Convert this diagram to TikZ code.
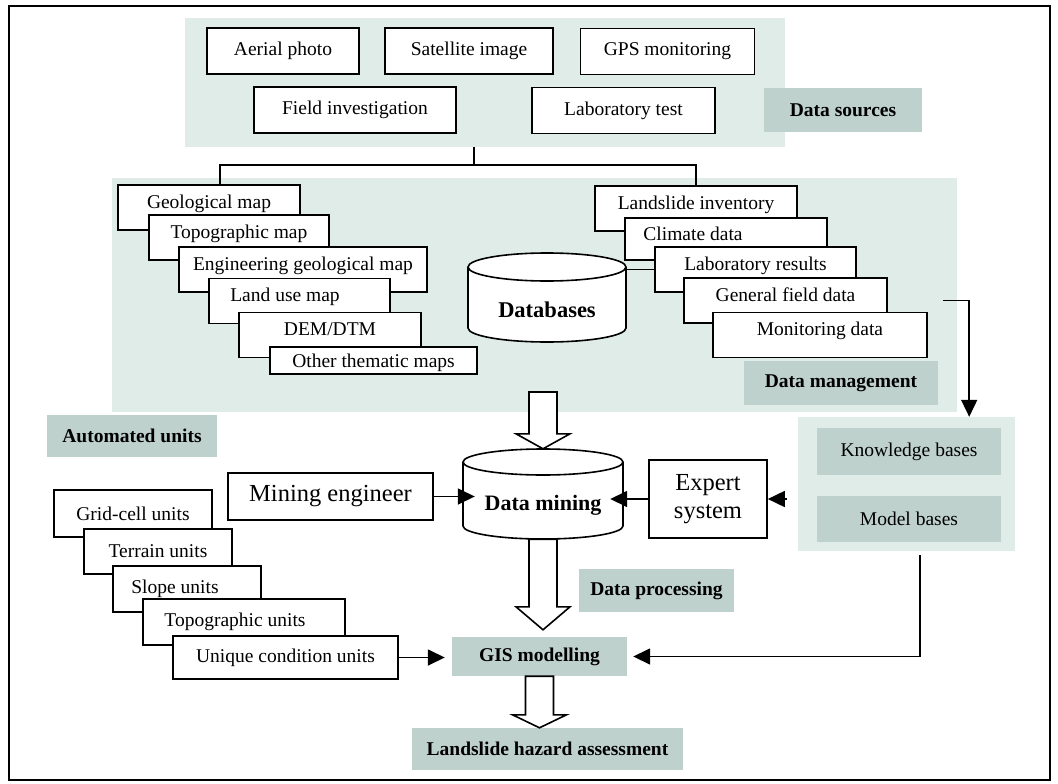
\documentclass[tikz,border=0pt]{standalone}
\usepackage{fontspec}
\setmainfont{Liberation Serif}
\usepackage{xcolor}
\definecolor{panelbg}{RGB}{224,236,232}
\definecolor{tagbg}{RGB}{191,209,205}
\usepackage{tikz}
\usetikzlibrary{arrows.meta,calc}

\newcommand{\hollowarrow}[3]{%
  \draw[hollow] let \p1=(#1), \p2=(#2) in
    (\x1-14,\y1) -- (\x1-14,\y2+#3) -- (\x1-27,\y2+#3) -- (\x1,\y2)
    -- (\x1+27,\y2+#3) -- (\x1+14,\y2+#3) -- (\x1+14,\y1) -- cycle;}

\begin{document}
\begin{tikzpicture}[
    x=1pt, y=1pt,
    box/.style={draw, fill=white, line width=1.6pt, inner sep=0pt, minimum height=46pt, font=\fontsize{19.5}{23}\selectfont},
    mapbox/.style={box, minimum height=0pt, text height=23pt, text depth=22pt},
    tag/.style={fill=tagbg, inner sep=0pt, font=\fontsize{19.5}{23}\selectfont\bfseries},
    panel/.style={fill=panelbg, inner sep=0pt},
    big/.style={font=\fontsize{24.5}{28}\selectfont},
    arr/.style={-{Triangle[length=17pt, width=16pt]}, line width=1.6pt},
    hollow/.style={draw, fill=white, line width=1.6pt},
    cyl/.style={draw, fill=white, line width=1.6pt}
]
\useasboundingbox (0,0) rectangle (1058,-784);
\draw[line width=2.8pt] (9,-6) rectangle (1050,-780);

\node[panel, minimum width=600pt, minimum height=129pt] (srcpanel) at (485,-82.5) {};
\node[panel, minimum width=845pt, minimum height=234pt] (mgmtpanel) at (534.5,-295) {};
\node[panel, minimum width=217pt, minimum height=134pt] (kbpanel) at (906.5,-484) {};

% data sources
\node[box, minimum width=152pt] (aerial) at (283,-51) {Aerial photo};
\node[box, minimum width=168pt] (satellite) at (469,-51) {Satellite image};
\node[box, minimum width=174pt] (gps) at (667.5,-51.5) {GPS monitoring};
\node[box, minimum width=202pt] (fieldinv) at (355,-110) {Field investigation};
\node[box, minimum width=183pt] (labtest) at (623.5,-110.5) {Laboratory test};
\node[tag, minimum width=158pt, minimum height=44pt] (srclabel) at (843,-110) {Data sources};

% data management
\node[mapbox, minimum width=182pt] (geo) at (209,-207.5) {Geological map};
\node[mapbox, minimum width=180pt] (topo) at (239,-237.5) {Topographic map};
\node[mapbox, minimum width=248pt] (eng) at (303,-269.5) {Engineering geological map};
\node[mapbox, minimum width=181pt] (landuse) at (299.5,-301) {Land use map\hspace*{29pt}};
\node[mapbox, minimum width=182pt] (dem) at (330,-335) {DEM/DTM};
\node[mapbox, minimum width=207pt, text height=20pt, text depth=7pt] (other) at (373.5,-360.5) {Other thematic maps};

\node[mapbox, minimum width=202pt] (inventory) at (696,-208.5) {Landslide inventory};
\node[mapbox, minimum width=202pt, text height=22pt, text depth=20pt] (climate) at (726,-239) {Climate data\hspace*{66pt}};
\node[mapbox, minimum width=201pt] (labres) at (755.5,-269.5) {Laboratory results};
\node[mapbox, minimum width=203pt] (fielddata) at (785.5,-300.5) {General field data};
\node[mapbox, minimum width=214pt] (monitor) at (820,-335) {Monitoring data};

\coordinate (split) at (474,-165);
\draw[line width=1.6pt] (split |- srcpanel.south) -- (split);
\draw[line width=1.6pt] (split) -| ([xshift=11pt]geo.north);
\draw[line width=1.6pt] (split) -| (inventory.north);

\draw[cyl] (468,-267) -- (468,-328) arc[start angle=180, end angle=360, x radius=79, y radius=14]
    -- (626,-267) arc[start angle=0, end angle=360, x radius=79, y radius=14];
\node[font=\fontsize{22.5}{26}\selectfont\bfseries, minimum width=158pt, inner sep=0pt, text height=64pt, text depth=25pt] (db) at (547,-297.5) {Databases};
\draw[line width=1.6pt] (labres.west) -- (labres.west -| db.east);

\node[tag, minimum width=194pt, minimum height=44pt] (mgmtlabel) at (841,-383) {Data management};
\draw[arr, shorten <=55pt] (fielddata.east) -| ([xshift=-46pt]kbpanel.north east);

% knowledge and model bases
\node[tag, font=\fontsize{19.5}{23}\selectfont, minimum width=184pt, minimum height=47pt] (knowledge) at (909,-451.5) {Knowledge bases};
\node[tag, font=\fontsize{19.5}{23}\selectfont, minimum width=184pt, minimum height=46pt] (model) at (909,-519) {Model bases};

% data mining
\node[tag, minimum width=170pt, minimum height=42pt] (autolabel) at (132,-436) {Automated units};
\node[box, big, minimum width=205pt, minimum height=47pt] (engineer) at (330.5,-496.5) {Mining engineer};
\node[box, big, minimum width=118pt, minimum height=78pt, align=center] (expert) at (708,-499) {Expert\\system};

\draw[cyl] (463,-462) -- (463,-526) arc[start angle=180, end angle=360, x radius=80, y radius=13]
    -- (623,-462) arc[start angle=0, end angle=360, x radius=80, y radius=13];
\node[font=\fontsize{22}{26}\selectfont\bfseries, minimum width=160pt, inner sep=0pt, text height=61pt, text depth=29pt] (mining) at (543,-494) {Data mining};

\node[tag, minimum width=155pt, minimum height=43pt] (proclabel) at (656.5,-590.5) {Data processing};
\node[tag, minimum width=175pt, minimum height=39pt] (gis) at (539.5,-656.5) {GIS modelling};
\node[tag, minimum width=271pt, minimum height=42pt] (hazard) at (547.5,-749) {Landslide hazard assessment};

% units
\node[box, minimum width=158pt, minimum height=47pt] (gridcell) at (133,-513.5) {Grid-cell units};
\node[box, minimum width=148pt, minimum height=45pt] (terrain) at (158,-551.5) {Terrain units};
\node[box, minimum width=148pt] (slope) at (187,-589) {Slope units\hspace*{24pt}};
\node[box, minimum width=202pt] (topounits) at (244,-622) {Topographic units\hspace*{18pt}};
\node[box, minimum width=225pt, minimum height=43pt] (unique) at (285.5,-657.5) {Unique condition units};

\coordinate (mgmtout) at (543,-392);
\hollowarrow{mgmtout}{mining.north}{15}
\hollowarrow{mining.south}{[yshift=7pt]gis.north}{23}
\hollowarrow{gis.south}{hazard.north}{13}

\draw[arr, shorten >=-12pt] (engineer.east) -- (engineer.east -| mining.west);
\draw[arr, shorten >=-13pt] (expert.west) -- (expert.west -| mining.east);
\draw[arr, shorten <=11pt] (expert.east -| kbpanel.west) -- (expert.east);
\draw[arr, shorten >=7pt] (unique.east) -- (unique.east -| gis.west);
\draw[arr, shorten <=4pt, shorten >=6pt] ([xshift=13.5pt]kbpanel.south) |- (gis.east);
\end{tikzpicture}
\end{document}
